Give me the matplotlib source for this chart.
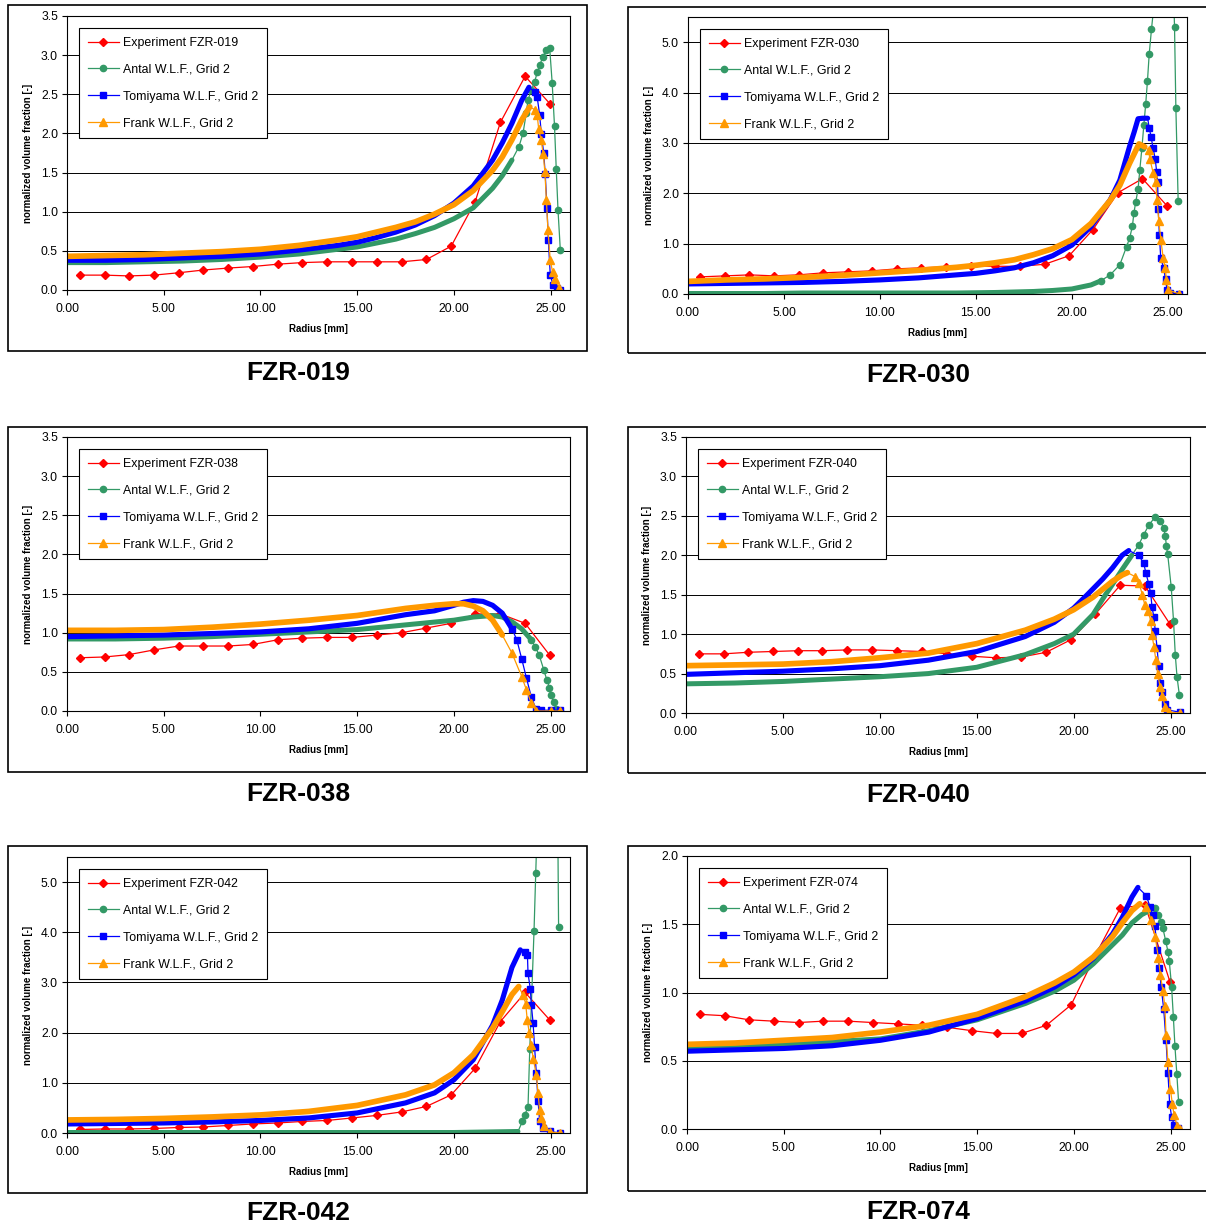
import numpy as np
import matplotlib
matplotlib.use('Agg')
import matplotlib.pyplot as plt
from matplotlib.patches import Rectangle
from matplotlib.lines import Line2D

plt.rcParams['font.family'] = ['Liberation Sans', 'DejaVu Sans']

W, H = 1206, 1227

### data
# experiment radii (same in every case)
exp_x = [0.65, 1.94, 3.2, 4.49, 5.77, 7.04, 8.32, 9.6, 10.9, 12.15, 13.45, 14.74,
         16.0, 17.3, 18.58, 19.86, 21.1, 22.4, 23.68, 24.96]

# FZR-019
exp019_y = [0.19, 0.19, 0.18, 0.19, 0.22, 0.255, 0.28, 0.30, 0.33, 0.35, 0.36, 0.36,
            0.36, 0.36, 0.39, 0.56, 1.13, 2.14, 2.73, 2.38]
antal019_x = [0, 2, 4, 6, 8, 10, 12, 14, 15, 16, 17, 18, 19, 20, 21, 22, 22.5, 23,
              23.36, 23.57, 23.74, 23.83, 24.0, 24.17, 24.31, 24.43, 24.6, 24.78, 24.95,
              25.08, 25.2, 25.29, 25.38, 25.5]
antal019_y = [0.35, 0.35, 0.36, 0.37, 0.39, 0.42, 0.46, 0.52, 0.55, 0.60, 0.65, 0.72, 0.80,
              0.91, 1.05, 1.30, 1.46, 1.66, 1.83, 2.0, 2.26, 2.43, 2.55, 2.66, 2.78, 2.87,
              2.98, 3.07, 3.09, 2.64, 2.09, 1.54, 1.02, 0.51]
tomi019_x = [0, 2, 4, 6, 8, 10, 12, 14, 15, 16, 17, 18, 19, 20, 21, 22, 22.5, 23, 23.5,
             23.88, 24.17, 24.3, 24.43, 24.52, 24.64, 24.72, 24.81, 24.88, 24.98, 25.12,
             25.35, 25.5]
tomi019_y = [0.38, 0.38, 0.39, 0.41, 0.43, 0.46, 0.51, 0.57, 0.61, 0.67, 0.74, 0.83, 0.95,
             1.11, 1.33, 1.66, 1.88, 2.13, 2.42, 2.59, 2.53, 2.47, 2.24, 1.99, 1.75, 1.48,
             1.05, 0.64, 0.19, 0.07, 0.02, 0.0]
frank019_x = [0, 2, 4, 6, 8, 10, 12, 14, 15, 16, 17, 18, 19, 20, 21, 22, 22.5, 23, 23.5,
              23.92, 24.2, 24.3, 24.38, 24.5, 24.62, 24.7, 24.78, 24.86, 24.98, 25.1,
              25.25, 25.45]
frank019_y = [0.43, 0.44, 0.45, 0.47, 0.49, 0.52, 0.57, 0.64, 0.68, 0.74, 0.80, 0.87, 0.97,
              1.09, 1.27, 1.53, 1.70, 1.92, 2.17, 2.34, 2.30, 2.24, 2.06, 1.92, 1.74, 1.51,
              1.15, 0.77, 0.38, 0.23, 0.14, 0.02]

# FZR-030
exp030_y = [0.34, 0.36, 0.38, 0.36, 0.38, 0.42, 0.44, 0.46, 0.50, 0.52, 0.54, 0.56,
            0.55, 0.55, 0.59, 0.76, 1.28, 2.01, 2.29, 1.75]
antal030_x = [0, 2, 4, 6, 8, 10, 12, 14, 16, 17, 18, 19, 20, 21, 21.5, 22, 22.5, 22.85,
              23.02, 23.16, 23.23, 23.33, 23.45, 23.54, 23.65, 23.75, 23.85, 23.94, 24.03,
              24.15, 24.35, 24.8, 25.3, 25.35, 25.42, 25.54]
antal030_y = [0.01, 0.01, 0.01, 0.02, 0.02, 0.02, 0.02, 0.02, 0.03, 0.04, 0.05, 0.07, 0.10,
              0.18, 0.26, 0.38, 0.58, 0.94, 1.12, 1.36, 1.60, 1.83, 2.08, 2.46, 2.9, 3.35,
              3.78, 4.23, 4.76, 5.26, 6.0, 7.2, 6.0, 5.3, 3.7, 1.84]
tomi030_x = [0, 2, 4, 6, 8, 10, 12, 14, 15, 16, 17, 18, 19, 20, 21, 22, 22.5, 23, 23.25,
             23.45, 23.7, 23.95, 24.03, 24.13, 24.23, 24.34, 24.42, 24.47, 24.5, 24.56,
             24.63, 24.78, 24.88, 24.96, 25.1, 25.6]
tomi030_y = [0.20, 0.21, 0.22, 0.23, 0.25, 0.28, 0.32, 0.38, 0.41, 0.46, 0.52, 0.62, 0.76,
             0.97, 1.34, 1.87, 2.26, 2.92, 3.22, 3.48, 3.49, 3.49, 3.30, 3.12, 2.90, 2.69,
             2.43, 2.22, 1.69, 1.18, 0.72, 0.52, 0.29, 0.08, 0.02, 0.0]
frank030_x = [0, 2, 4, 6, 8, 10, 12, 14, 15, 16, 17, 18, 19, 20, 21, 22, 22.5, 23, 23.5,
              23.8, 24.0, 24.06, 24.24, 24.37, 24.44, 24.53, 24.64, 24.76, 24.86, 24.93,
              25.03, 25.6]
frank030_y = [0.25, 0.28, 0.30, 0.33, 0.37, 0.42, 0.47, 0.53, 0.57, 0.62, 0.68, 0.78, 0.90,
              1.08, 1.40, 1.86, 2.16, 2.59, 2.98, 2.92, 2.86, 2.69, 2.40, 2.22, 1.87, 1.45,
              1.07, 0.71, 0.52, 0.28, 0.08, 0.0]

# FZR-038
exp038_y = [0.68, 0.69, 0.72, 0.78, 0.83, 0.83, 0.83, 0.85, 0.91, 0.93, 0.94, 0.94,
            0.97, 1.0, 1.06, 1.12, 1.24, 1.24, 1.12, 0.71]
antal038_x = [0, 2.5, 5, 7.5, 10, 12.5, 15, 17.5, 20, 21, 21.5, 22, 22.5, 23, 23.5, 24,
              24.2, 24.4, 24.64, 24.8, 24.94, 25.0, 25.16, 25.3, 25.5]
antal038_y = [0.92, 0.92, 0.93, 0.95, 0.98, 1.01, 1.04, 1.10, 1.16, 1.20, 1.21, 1.22, 1.20,
              1.14, 1.05, 0.91, 0.82, 0.72, 0.53, 0.40, 0.30, 0.21, 0.11, 0.03, 0.0]
tomi038_x = [0, 2.5, 5, 7.5, 10, 12.5, 15, 17.5, 19, 20, 20.5, 21, 21.5, 22, 22.5, 23,
             23.25, 23.5, 23.75, 24, 24.25, 24.5, 25, 25.5]
tomi038_y = [0.95, 0.96, 0.97, 0.99, 1.01, 1.05, 1.12, 1.23, 1.28, 1.35, 1.39, 1.41, 1.40,
             1.35, 1.25, 1.05, 0.91, 0.67, 0.42, 0.18, 0.02, 0.01, 0.01, 0.01]
frank038_x = [0, 2.5, 5, 7.5, 10, 12.5, 15, 17.5, 19, 20, 20.5, 21, 21.5, 22, 22.5, 23,
              23.5, 23.75, 24, 24.25, 25, 25.5]
frank038_y = [1.03, 1.03, 1.04, 1.07, 1.11, 1.16, 1.22, 1.31, 1.35, 1.37, 1.37, 1.34, 1.28,
              1.16, 0.97, 0.74, 0.44, 0.27, 0.10, 0.0, 0.0, 0.0]

# FZR-040
exp040_y = [0.75, 0.75, 0.77, 0.78, 0.79, 0.79, 0.80, 0.80, 0.79, 0.78, 0.75, 0.72,
            0.70, 0.71, 0.77, 0.93, 1.25, 1.62, 1.61, 1.13]
antal040_x = [0, 2.5, 5, 7.5, 10, 12.5, 15, 17.5, 19, 20, 21, 21.64, 22, 22.5, 23, 23.35,
              23.61, 23.87, 24.21, 24.47, 24.64, 24.73, 24.78, 24.85, 25.03, 25.15, 25.24,
              25.33, 25.45]
antal040_y = [0.37, 0.38, 0.40, 0.43, 0.46, 0.50, 0.58, 0.74, 0.88, 1.0, 1.25, 1.5, 1.63,
              1.82, 2.0, 2.13, 2.26, 2.38, 2.49, 2.43, 2.35, 2.24, 2.12, 2.01, 1.60, 1.17,
              0.74, 0.46, 0.23]
tomi040_x = [0, 2.5, 5, 7.5, 10, 12.5, 15, 17.5, 19, 20, 20.7, 21.5, 22, 22.5, 22.84,
             23.35, 23.61, 23.73, 23.87, 23.97, 24.04, 24.13, 24.21, 24.3, 24.38, 24.47,
             24.56, 24.69, 24.8, 25.5]
tomi040_y = [0.49, 0.51, 0.53, 0.56, 0.60, 0.67, 0.78, 0.97, 1.15, 1.33, 1.50, 1.70, 1.84,
             2.0, 2.06, 2.0, 1.9, 1.77, 1.64, 1.52, 1.35, 1.22, 1.04, 0.83, 0.60, 0.38,
             0.27, 0.12, 0.04, 0.01]
frank040_x = [0, 2.5, 5, 7.5, 10, 12.5, 15, 17.5, 19, 20, 21, 22, 22.5, 22.77, 23.17,
              23.37, 23.54, 23.67, 23.85, 23.97, 24.04, 24.14, 24.24, 24.33, 24.46, 24.58,
              24.72, 24.9, 25.5]
frank040_y = [0.60, 0.61, 0.62, 0.65, 0.70, 0.76, 0.88, 1.05, 1.19, 1.31, 1.47, 1.67, 1.75,
              1.78, 1.73, 1.65, 1.50, 1.37, 1.29, 1.17, 0.99, 0.84, 0.67, 0.50, 0.33, 0.21,
              0.08, 0.01, 0.0]

# FZR-042
exp042_y = [0.07, 0.08, 0.08, 0.09, 0.11, 0.12, 0.15, 0.18, 0.20, 0.23, 0.25, 0.30,
            0.35, 0.42, 0.53, 0.76, 1.29, 2.22, 2.80, 2.25]
antal042_x = [0, 5, 10, 15, 20, 23.31, 23.54, 23.66, 23.83, 23.92, 24.14, 24.23, 24.32,
              24.9, 25.35, 25.41]
antal042_y = [0.01, 0.01, 0.01, 0.01, 0.01, 0.03, 0.23, 0.36, 0.52, 1.67, 4.02, 5.19, 6.3,
              8.0, 7.0, 4.11]
tomi042_x = [0, 2.5, 5, 7.5, 10, 12.5, 15, 17.5, 19, 20, 21, 22, 22.5, 23, 23.43, 23.66,
             23.8, 23.83, 23.95, 24.0, 24.09, 24.17, 24.26, 24.35, 24.43, 24.6, 24.95, 25.5]
tomi042_y = [0.18, 0.19, 0.20, 0.22, 0.25, 0.30, 0.40, 0.60, 0.80, 1.06, 1.46, 2.15, 2.65,
             3.30, 3.65, 3.61, 3.55, 3.18, 2.87, 2.56, 2.20, 1.71, 1.19, 0.64, 0.23, 0.10,
             0.03, 0.0]
frank042_x = [0, 2.5, 5, 7.5, 10, 12.5, 15, 17.5, 19, 20, 21, 22, 22.5, 23, 23.35, 23.57,
              23.71, 23.79, 23.9, 24.0, 24.1, 24.26, 24.35, 24.43, 24.5, 24.64, 24.95, 25.5]
frank042_y = [0.26, 0.27, 0.29, 0.32, 0.36, 0.43, 0.55, 0.76, 0.96, 1.20, 1.56, 2.09, 2.42,
              2.76, 2.92, 2.75, 2.58, 2.25, 1.99, 1.75, 1.48, 1.16, 0.79, 0.46, 0.30, 0.13,
              0.02, 0.0]

# FZR-074
exp074_y = [0.84, 0.83, 0.80, 0.79, 0.78, 0.79, 0.79, 0.78, 0.77, 0.76, 0.745, 0.72,
            0.70, 0.70, 0.76, 0.91, 1.27, 1.62, 1.64, 1.08]
antal074_x = [0, 2.5, 5, 7.5, 10, 12.5, 15, 17.5, 19, 20, 21, 22, 22.5, 23, 23.5, 23.9,
              24.18, 24.37, 24.51, 24.6, 24.74, 24.86, 24.93, 25.05, 25.14, 25.22, 25.32,
              25.41]
antal074_y = [0.60, 0.61, 0.62, 0.64, 0.66, 0.72, 0.80, 0.92, 1.01, 1.09, 1.21, 1.35, 1.42,
              1.51, 1.57, 1.60, 1.62, 1.57, 1.52, 1.47, 1.38, 1.30, 1.23, 1.04, 0.82, 0.61,
              0.40, 0.20]
tomi074_x = [0, 2.5, 5, 7.5, 10, 12.5, 15, 17.5, 19, 20, 21, 22, 22.5, 23, 23.31, 23.74,
             23.93, 24.08, 24.18, 24.32, 24.41, 24.51, 24.64, 24.76, 24.86, 24.95, 25.05,
             25.18, 25.38]
tomi074_y = [0.57, 0.58, 0.59, 0.61, 0.65, 0.71, 0.81, 0.94, 1.04, 1.13, 1.25, 1.43, 1.55,
             1.70, 1.77, 1.71, 1.63, 1.57, 1.49, 1.31, 1.18, 1.04, 0.88, 0.65, 0.41, 0.18,
             0.09, 0.03, 0.01]
frank074_x = [0, 2.5, 5, 7.5, 10, 12.5, 15, 17.5, 19, 20, 21, 22, 22.5, 23, 23.4, 23.75,
              24.0, 24.2, 24.37, 24.47, 24.6, 24.7, 24.76, 24.86, 24.99, 25.09, 25.18,
              25.34, 25.5]
frank074_y = [0.62, 0.63, 0.65, 0.67, 0.71, 0.76, 0.84, 0.97, 1.07, 1.15, 1.26, 1.41, 1.51,
              1.60, 1.65, 1.63, 1.53, 1.41, 1.25, 1.13, 1.01, 0.90, 0.69, 0.49, 0.29, 0.18,
              0.10, 0.02, 0.0]

cases = ['FZR-019', 'FZR-030', 'FZR-038', 'FZR-040', 'FZR-042', 'FZR-074']
exp_ys = [exp019_y, exp030_y, exp038_y, exp040_y, exp042_y, exp074_y]
antal = [(antal019_x, antal019_y), (antal030_x, antal030_y), (antal038_x, antal038_y),
         (antal040_x, antal040_y), (antal042_x, antal042_y), (antal074_x, antal074_y)]
tomi = [(tomi019_x, tomi019_y), (tomi030_x, tomi030_y), (tomi038_x, tomi038_y),
        (tomi040_x, tomi040_y), (tomi042_x, tomi042_y), (tomi074_x, tomi074_y)]
frank = [(frank019_x, frank019_y), (frank030_x, frank030_y), (frank038_x, frank038_y),
         (frank040_x, frank040_y), (frank042_x, frank042_y), (frank074_x, frank074_y)]
y_top = [3.5, 5.5, 3.5, 3.5, 5.5, 2.0]
y_step = [0.5, 1.0, 0.5, 0.5, 1.0, 0.5]

### layout (pixels): axes l,t,r,b ; chart box l,t,r,b ; title centre
ax_px = [(67, 16, 570, 290), (688, 17, 1187, 294),
         (67, 437, 570, 711), (686, 437, 1190, 713),
         (67, 857, 570, 1133), (687, 856, 1190, 1129)]
box_px = [(8, 5, 587, 351), (628, 7, 1212, 353),
          (8, 427, 587, 772), (628, 427, 1212, 773),
          (8, 846, 587, 1193), (628, 846, 1212, 1191)]
title_px = [(298, 373), (918, 375), (298, 794), (918, 795), (298, 1213), (918, 1212)]
# where the simulated markers merge into a band (antal, tomiyama, frank)
band_end = [(23.3, 23.9, 24.0), (21.5, 24.0, 23.9), (24.0, 23.0, 22.8),
            (23.3, 22.9, 23.0), (23.35, 23.5, 23.4), (24.0, 23.5, 23.6)]

c_exp, c_ant, c_tom, c_fra = '#FF0000', '#339966', '#0000FF', '#FF9900'
sim_style = [(c_ant, 'o', 4.5, 3.6), (c_tom, 's', 4.2, 3.7), (c_fra, '^', 5.2, 4.1)]


def draw_sim(ax, x, y, color, marker, ms, bw, xend):
    x = np.asarray(x)
    y = np.asarray(y)
    dense = x <= xend
    ax.plot(x[dense], y[dense], color=color, lw=bw, solid_capstyle='round',
            solid_joinstyle='round')
    idx = list(np.where(x >= xend)[0])
    ax.plot(x, y, color=color, lw=0.9, marker=marker, ms=ms, mec=color, mfc=color,
            markevery=idx)


fig = plt.figure(figsize=(W / 100, H / 100), dpi=100)

for i in range(6):
    l, t, r, b = ax_px[i]
    ax = fig.add_axes([l / W, 1 - b / H, (r - l) / W, (b - t) / H])
    ax.set_xlim(0, 26)
    ax.set_ylim(0, y_top[i])

    ax.plot(exp_x, exp_ys[i], color=c_exp, lw=0.9, marker='D', ms=3.6)
    sims = [antal[i], tomi[i], frank[i]]
    for (sx, sy), (col, mk, ms, bw), xe in zip(sims, sim_style, band_end[i]):
        draw_sim(ax, sx, sy, col, mk, ms, bw, xe)

    ax.set_xticks(np.arange(0, 26, 5))
    ax.set_xticklabels(['%.2f' % v for v in np.arange(0, 26, 5)])
    yt = np.arange(0, y_top[i] + 0.01, y_step[i])
    ax.set_yticks(yt)
    ax.set_yticklabels(['%.1f' % v for v in yt])
    ax.tick_params(direction='out', length=3.5, width=0.8, labelsize=8.7, color='black')
    ax.tick_params(axis='x', pad=6)
    ax.tick_params(axis='y', pad=3)
    ax.yaxis.grid(True, color='black', lw=0.7)
    ax.set_axisbelow(True)
    for s in ax.spines.values():
        s.set_color('black')
        s.set_linewidth(0.8)

    hpx = b - t
    ax.text(0.5, -39 / hpx, 'Radius [mm]', transform=ax.transAxes, ha='center',
            va='center', fontsize=7, fontweight='bold')
    ax.text(-39 / (r - l), 0.5, 'normalized volume fraction [-]', transform=ax.transAxes,
            ha='center', va='center', rotation=90, fontsize=7, fontweight='bold')

    handles = [Line2D([], [], color=c_exp, lw=0.9, marker='D', ms=3.6),
               Line2D([], [], color=c_ant, lw=0.9, marker='o', ms=4.5),
               Line2D([], [], color=c_tom, lw=0.9, marker='s', ms=4.2),
               Line2D([], [], color=c_fra, lw=0.9, marker='^', ms=5.2)]
    labels = ['Experiment ' + cases[i], 'Antal W.L.F., Grid 2',
              'Tomiyama W.L.F., Grid 2', 'Frank W.L.F., Grid 2']
    leg = ax.legend(handles, labels, loc='upper left',
                    bbox_to_anchor=(12 / (r - l), 1 - 12 / hpx), borderaxespad=0,
                    fontsize=8.9, frameon=True, fancybox=False, framealpha=1,
                    edgecolor='black', labelspacing=1.2, handlelength=2.5,
                    handletextpad=0.3, borderpad=0.72)
    leg.get_frame().set_linewidth(0.8)

    bl, bt, br, bb = box_px[i]
    fig.add_artist(Rectangle((bl / W, 1 - bb / H), (br - bl) / W, (bb - bt) / H,
                             transform=fig.transFigure, fill=False, ec='black', lw=1.2))
    tx, ty = title_px[i]
    fig.text(tx / W, 1 - ty / H, cases[i], ha='center', va='center', fontsize=19,
             fontweight='bold')

fig.savefig('out.png', dpi=100)
